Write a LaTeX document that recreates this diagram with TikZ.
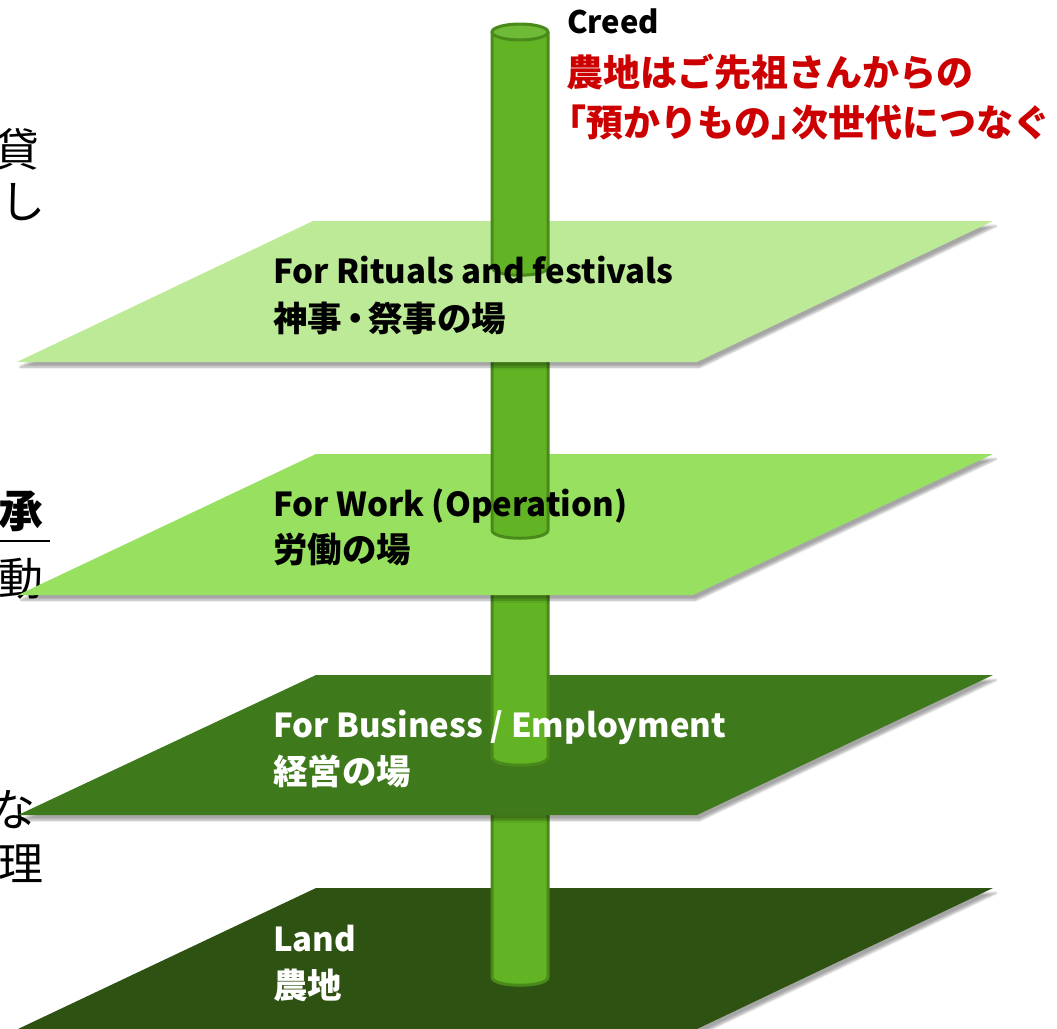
\documentclass[tikz,border=0pt]{standalone}
\usepackage{fontspec}
\setmainfont{Noto Sans CJK JP}
\usetikzlibrary{shadows.blur}
\definecolor{pA}{HTML}{BDEA96}
\definecolor{pB}{HTML}{98E160}
\definecolor{pC}{HTML}{3E7A1C}
\definecolor{pD}{HTML}{2D5211}
\definecolor{poleF}{HTML}{62B424}
\definecolor{poleD}{HTML}{4A8A1A}
\definecolor{creedred}{HTML}{CC0000}
\begin{document}
\begin{tikzpicture}[x=1pt,y=-1pt,
  plane/.style={blur shadow={shadow xshift=3pt, shadow yshift=-5pt, shadow blur steps=6, shadow opacity=35}},
  polebody/.style={fill=poleF},
  poleline/.style={draw=poleD, line width=3pt},
  lab/.style={font=\bfseries\fontsize{33}{33}\selectfont, inner sep=0pt, anchor=base west},
  labjp/.style={font=\bfseries\fontsize{34.5}{34.5}\selectfont, inner sep=0pt, anchor=base west},
  side/.style={font=\fontsize{45}{45}\selectfont, inner sep=0pt, anchor=base east, text=black},
  red/.style={font=\bfseries\fontsize{37}{37}\selectfont, inner sep=0pt, anchor=base west, text=creedred}]
\useasboundingbox (0,0) rectangle (1057,1028);
\clip (0,0) rectangle (1057,1028);

% left cut-off text
\node[side] (s1) at (40,166) {貸};
\node[side] (s2) at (46,218) {し};
\node[side, font=\bfseries\fontsize{45}{45}\selectfont] (s3) at (44,527) {承};
\draw[line width=2.5pt] (0,541) -- (50,541);
\node[side] (s4) at (44,595) {動};
\node[side] (s5) at (36,826) {な};
\node[side] (s6) at (44,880) {理};

% plane 4 and segment 4
\path[plane, fill=pD] (316,888) -- (993,888) -- (697,1029) -- (18,1029) -- cycle;
\fill[polebody] (492,800) rectangle (548,977);
\filldraw[polebody, poleline] (492,800) -- (492,977) .. controls (492,988) and (548,988) .. (548,977) -- (548,800);
% plane 3 and segment 3
\path[plane, fill=pC] (316,675) -- (993,675) -- (697,815) -- (18,815) -- cycle;
\fill[polebody] (492,580) rectangle (548,757);
\filldraw[polebody, poleline] (492,580) -- (492,757) .. controls (492,768) and (548,768) .. (548,757) -- (548,580);
% plane 2 and segment 2
\path[plane, fill=pB] (316,454) -- (993,454) -- (693,595) -- (18,595) -- cycle;
\fill[polebody] (492,345) rectangle (548,530);
\filldraw[polebody, poleline] (492,345) -- (492,530) .. controls (492,541) and (548,541) .. (548,530) -- (548,345);
% plane 1 and segment 1
\path[plane, fill=pA] (313,221) -- (993,221) -- (697,362) -- (17,362) -- cycle;
\fill[polebody] (492,32) rectangle (548,267);
\filldraw[polebody, poleline] (492,32) -- (492,267) .. controls (492,278) and (548,278) .. (548,267) -- (548,32);
\filldraw[fill=poleF!92!white, poleline] (520,32) ellipse (28 and 8);

% plane labels
\node[lab] (l1a) at (273,283) {For Rituals and festivals};
\node[labjp] (l1b) at (273,331) {神事\hspace{-0.12em}・\hspace{-0.12em}祭事の場};
\node[lab] (l2a) at (273,516) {For Work (Operation)};
\node[labjp] (l2b) at (273,562) {労働の場};
\node[lab, text=white] (l3a) at (273,737) {For Business / Employment};
\node[labjp, text=white] (l3b) at (273,784) {経営の場};
\node[lab, text=white] (l4a) at (273,951) {Land};
\node[labjp, text=white] (l4b) at (273,998) {農地};

% creed
\node[lab, font=\bfseries\fontsize{31}{31}\selectfont] (cr) at (567,33) {Creed};
\node[red] (c1) at (566,86) {農地はご先祖さんからの};
\node[red] (c2) at (549,136) {「預かりもの」\hspace{-0.45em}次世代につなぐ};
\end{tikzpicture}
\end{document}
